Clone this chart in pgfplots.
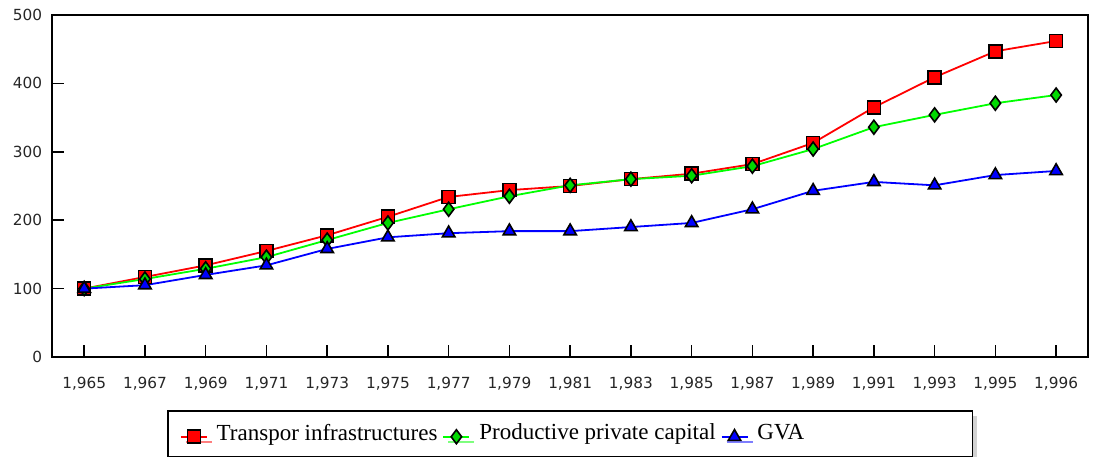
\documentclass[border=0pt]{standalone}
\usepackage{pgfplots}
\pgfplotsset{compat=1.18}
\usepackage{fontspec}
\setmainfont{DejaVu Sans}
\newfontfamily\legfont{Liberation Serif}
\usetikzlibrary{shadows}
\newcommand{\yr}[1]{1,#1}
\begin{document}
\begin{tikzpicture}[x=1pt,y=1pt]
\useasboundingbox (-51.7pt,-99pt) rectangle (1042.3pt,357pt);
\begin{axis}[
  at={(0pt,0pt)}, anchor=south west,
  scale only axis, width=1036pt, height=342pt,
  xmin=-0.535, xmax=16.52, ymin=0, ymax=500,
  xtick={0,...,16},
  xticklabels={\yr{965},\yr{967},\yr{969},\yr{971},\yr{973},\yr{975},\yr{977},\yr{979},\yr{981},\yr{983},\yr{985},\yr{987},\yr{989},\yr{991},\yr{993},\yr{995},\yr{996}},
  ytick={0,100,200,300,400,500},
  tick align=inside,
  major tick length=12pt,
  tick style={black, line width=1.6pt},
  axis line style={line width=1.8pt},
  axis x line*=box, axis y line*=box,
  xtick pos=bottom, ytick pos=left,
  tick label style={font=\fontsize{15.3}{18}\selectfont, text=black!85},
  /pgf/number format/assume math mode=true,
  yticklabel style={xshift=-6pt},
  xticklabel style={yshift=-17pt},
  legend style={at={(0.1113,-0.155)}, anchor=north west, legend columns=3,
    draw=black, line width=1.8pt, inner xsep=12pt, inner ysep=13pt,
    drop shadow={shadow xshift=5pt, shadow yshift=-5pt, fill=gray!70},
    font=\legfont\fontsize{23}{26}\selectfont,
    nodes={inner xsep=0pt, inner ysep=0pt},
    /tikz/every odd column/.append style={column sep=9pt},
    /tikz/every even column/.append style={column sep=5pt}},
  legend image code/.code={
    \draw[#1, mark=none] (0pt,-4pt) -- (26pt,-4pt);
    \draw[#1, only marks] plot coordinates {(13pt,-4pt)};
  },
]
\addplot[red, line width=1.8pt, mark=square*, mark size=6.5pt,
  mark options={fill=red, draw=black, line width=1.6pt}]
  coordinates {(0,100) (1,117) (2,134) (3,155) (4,178) (5,205) (6,234) (7,244) (8,250) (9,260) (10,268) (11,282) (12,313) (13,365) (14,409) (15,447) (16,462)};
\addlegendentry{Transpor infrastructures}
\addplot[green, line width=1.8pt, mark=diamond*, mark size=7pt,
  mark options={fill=green!85!black, draw=black, line width=1.6pt}]
  coordinates {(0,100) (1,114) (2,129) (3,146) (4,171) (5,196) (6,216) (7,235) (8,251) (9,260) (10,265) (11,279) (12,304) (13,336) (14,354) (15,371) (16,383)};
\addlegendentry{Productive private capital}
\addplot[blue, line width=1.8pt, mark=triangle*, mark size=7.2pt,
  mark options={fill=blue, draw=black, line width=1.6pt}]
  coordinates {(0,100) (1,105) (2,120) (3,134) (4,158) (5,175) (6,181) (7,184) (8,184) (9,190) (10,196) (11,216) (12,243) (13,256) (14,251) (15,266) (16,272)};
\addlegendentry{\makebox[203pt][l]{GVA}}
\end{axis}
\end{tikzpicture}
\end{document}
